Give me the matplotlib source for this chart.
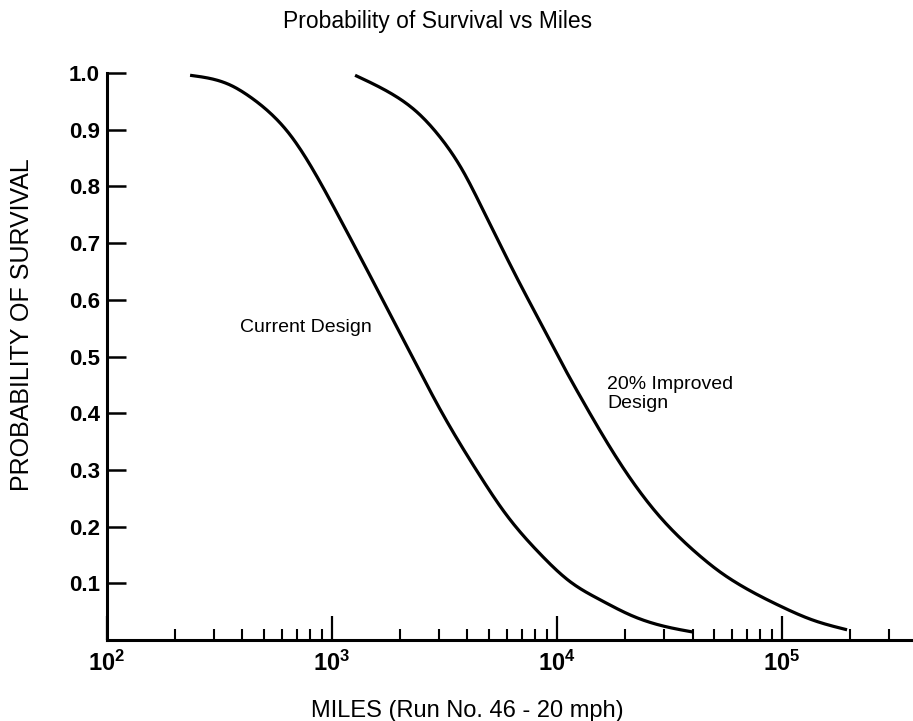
import matplotlib
matplotlib.use("Agg")
import matplotlib.pyplot as plt
from matplotlib.ticker import LogLocator, NullFormatter, FixedLocator, FixedFormatter
import numpy as np

plt.rcParams['font.family'] = ['Liberation Sans', 'DejaVu Sans']
plt.rcParams['mathtext.fontset'] = 'custom'
plt.rcParams['mathtext.rm'] = 'Liberation Sans'
plt.rcParams['mathtext.it'] = 'Liberation Sans:italic'
plt.rcParams['mathtext.bf'] = 'Liberation Sans:bold'

# Data
current_miles = [234, 352, 432, 519, 651, 858, 1085, 1430, 1810, 2291, 3020, 4456,
                 5873, 8404, 11420, 15530, 21770, 30830, 40220]
current_surv = [0.996, 0.979, 0.958, 0.933, 0.891, 0.817, 0.743, 0.653, 0.575, 0.497,
                0.407, 0.295, 0.224, 0.152, 0.103, 0.071, 0.042, 0.023, 0.014]

improved_miles = [1266, 1810, 2387, 3020, 3820, 4549, 6848, 8404, 10310, 12660, 15530,
                  19050, 23380, 28690, 35210, 43210, 53020, 65070, 97970, 137300, 194500]
improved_surv = [0.996, 0.965, 0.931, 0.887, 0.827, 0.769, 0.628, 0.561, 0.494, 0.430,
                 0.369, 0.312, 0.261, 0.217, 0.180, 0.148, 0.120, 0.097, 0.060, 0.035,
                 0.018]

y_ticks = [0.1, 0.2, 0.3, 0.4, 0.5, 0.6, 0.7, 0.8, 0.9, 1.0]
y_tick_labels = ["0.1", "0.2", "0.3", "0.4", "0.5", "0.6", "0.7", "0.8", "0.9", "1.0"]
x_major = [1e2, 1e3, 1e4, 1e5]
x_major_labels = [r"$\mathbf{10^{2}}$", r"$\mathbf{10^{3}}$", r"$\mathbf{10^{4}}$",
                  r"$\mathbf{10^{5}}$"]

title = "Probability of Survival vs Miles"
xlabel = "MILES (Run No. 46 - 20 mph)"
ylabel = "PROBABILITY OF SURVIVAL"
label_current = "Current Design"
label_improved = "20% Improved\nDesign"

fig = plt.figure(figsize=(9.13, 7.21), dpi=100)
ax = fig.add_axes([107/913, 1-640/721, 805/913, 567/721])


def smooth(xs, ys, n=400):
    """Natural cubic spline through the read points, in log-x, for a smooth curve."""
    x = np.log10(np.asarray(xs, float))
    y = np.asarray(ys, float)
    k = len(x)
    h = np.diff(x)
    A = np.zeros((k, k))
    r = np.zeros(k)
    A[0, 0] = A[-1, -1] = 1.0
    for i in range(1, k - 1):
        A[i, i-1] = h[i-1]
        A[i, i] = 2 * (h[i-1] + h[i])
        A[i, i+1] = h[i]
        r[i] = 6 * ((y[i+1] - y[i]) / h[i] - (y[i] - y[i-1]) / h[i-1])
    M = np.linalg.solve(A, r)
    t = np.linspace(x[0], x[-1], n)
    idx = np.clip(np.searchsorted(x, t) - 1, 0, k - 2)
    a = x[idx + 1] - t
    b = t - x[idx]
    hh = h[idx]
    out = (M[idx] * a**3 + M[idx+1] * b**3) / (6 * hh) \
        + (y[idx] / hh - M[idx] * hh / 6) * a + (y[idx+1] / hh - M[idx+1] * hh / 6) * b
    return 10**t, out


cx, cy = smooth(current_miles, current_surv)
ix, iy = smooth(improved_miles, improved_surv)
ax.plot(cx, cy, color='black', lw=2.3, solid_capstyle='butt')
ax.plot(ix, iy, color='black', lw=2.3, solid_capstyle='butt')

ax.set_xscale('log')
ax.set_xlim(100, 3.78e5)
ax.set_ylim(0, 1.0)

ax.xaxis.set_major_locator(FixedLocator(x_major))
ax.xaxis.set_major_formatter(FixedFormatter(x_major_labels))
ax.xaxis.set_minor_locator(LogLocator(base=10, subs=np.arange(2, 10)))
ax.xaxis.set_minor_formatter(NullFormatter())
ax.set_yticks(y_ticks)
ax.set_yticklabels(y_tick_labels)

for s in ['top', 'right']:
    ax.spines[s].set_visible(False)
for s in ['left', 'bottom']:
    ax.spines[s].set_linewidth(2.2)

ax.tick_params(axis='x', which='major', direction='in', length=17, width=1.6,
               labelsize=17, pad=8)
ax.tick_params(axis='x', which='minor', direction='in', length=8, width=1.5)
ax.tick_params(axis='y', which='major', direction='in', length=14, width=1.8,
               labelsize=16, pad=5)
for lbl in ax.get_yticklabels():
    lbl.set_fontweight('bold')

ax.text(390, 0.552, label_current, fontsize=14, ha='left', va='center')
ax.text(16680, 0.434, label_improved, fontsize=14, ha='left', va='center',
        linespacing=1.15)

fig.text(438/913, 1-28/721, title, fontsize=16.5, ha='center', va='baseline')
fig.text(467/913, 1-717/721, xlabel, fontsize=17, ha='center', va='baseline')
fig.text(22/913, 1-325/721, ylabel, fontsize=18, ha='center', va='center',
         rotation=90)

fig.savefig("out.png", dpi=100)
